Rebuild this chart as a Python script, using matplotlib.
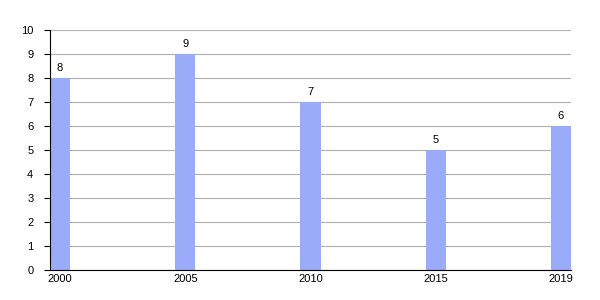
import numpy as np
import matplotlib.pyplot as plt

plt.rcParams['font.family'] = ['Liberation Sans', 'DejaVu Sans']

years = ['2000', '2005', '2010', '2015', '2019']
values = [8, 9, 7, 5, 6]

fig = plt.figure(figsize=(6, 3), dpi=100)
ax = fig.add_axes([50/600, 30/300, 521/600, 240/300])

x = np.arange(len(years))
ax.bar(x, values, width=0.16, color='#9aabfa', zorder=2)
for xi, v in zip(x, values):
    ax.text(xi, v + 0.2, str(v), ha='center', va='bottom', fontsize=8)

ax.set_xlim(-0.08, 4.08)
ax.set_ylim(0, 10)
ax.set_yticks(range(0, 11))
ax.set_xticks(x)
ax.set_xticklabels(years)
ax.yaxis.grid(True, color='#b0b0b0', linewidth=0.8, zorder=0)
ax.set_axisbelow(True)
ax.spines['top'].set_visible(False)
ax.spines['right'].set_visible(False)
ax.tick_params(axis='y', length=4, width=0.8, labelsize=8, pad=8)
ax.tick_params(axis='x', length=0, labelsize=8, pad=3)

fig.savefig('out.png')
